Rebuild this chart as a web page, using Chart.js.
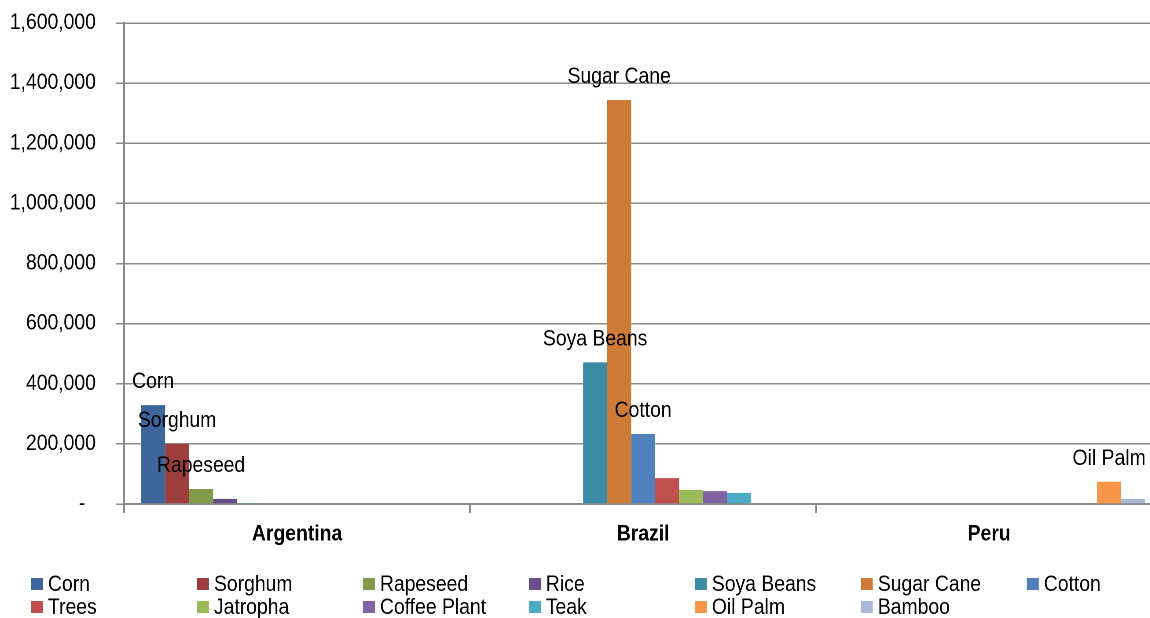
<!DOCTYPE html>
<html>
<head>
<meta charset="utf-8">
<script src="https://cdn.jsdelivr.net/npm/chart.js@4/dist/chart.umd.min.js"></script>
<style>
  html, body { margin: 0; padding: 0; background: #fff; }
  #clip { width: 1150px; height: 618px; overflow: hidden; position: relative; }
  /* the chart is laid out on a wider stage and drawn narrower */
  #stage { width: 1330px; height: 618px; transform: scaleX(0.88); transform-origin: 0 0; }
</style>
</head>
<body>
<div id="clip"><div id="stage"><canvas id="c" width="1330" height="618"></canvas></div></div>
<script>
// Countries on the x axis
const countries = ['Argentina', 'Brazil', 'Peru'];

// Crop areas per country (Argentina, Brazil, Peru)
const corn        = [329000, 0, 0];
const sorghum     = [200000, 0, 0];
const rapeseed    = [50000, 0, 0];
const rice        = [17000, 0, 0];
const soyaBeans   = [3500, 471000, 0];
const sugarCane   = [0, 1344000, 0];
const cotton      = [0, 233000, 0];
const trees       = [0, 86000, 0];
const jatropha    = [0, 47000, 0];
const coffeePlant = [0, 43000, 0];
const teak        = [0, 37000, 0];
const oilPalm     = [0, 0, 74000];
const bamboo      = [0, 0, 17000];

const seriesNames  = ['Corn', 'Sorghum', 'Rapeseed', 'Rice', 'Soya Beans', 'Sugar Cane', 'Cotton',
                      'Trees', 'Jatropha', 'Coffee Plant', 'Teak', 'Oil Palm', 'Bamboo'];
const seriesValues = [corn, sorghum, rapeseed, rice, soyaBeans, sugarCane, cotton,
                      trees, jatropha, coffeePlant, teak, oilPalm, bamboo];
const seriesColors = ['#3D679C', '#9C3F3C', '#7F9B48', '#664F86', '#3A8BA3', '#CE7B37', '#4F81BD',
                      '#C0504D', '#9BBB59', '#8064A2', '#4BACC6', '#F79646', '#A9B8D9'];

// Y axis ticks
const yMin = 0, yMax = 1600000, yStep = 200000;

// Bars that carry their series name above them: [series, country]
const namedBars = [
  ['Corn', 'Argentina'], ['Sorghum', 'Argentina'], ['Rapeseed', 'Argentina'],
  ['Soya Beans', 'Brazil'], ['Sugar Cane', 'Brazil'], ['Cotton', 'Brazil'],
  ['Oil Palm', 'Peru']
];

const FONT = '"Liberation Sans", Arial, sans-serif';

const barNames = {
  id: 'barNames',
  afterDatasetsDraw(chart) {
    const ctx = chart.ctx;
    ctx.save();
    ctx.font = '22px ' + FONT;
    ctx.fillStyle = '#000';
    ctx.textAlign = 'center';
    ctx.textBaseline = 'alphabetic';
    namedBars.forEach(([s, c]) => {
      const di = seriesNames.indexOf(s);
      const ci = countries.indexOf(c);
      const bar = chart.getDatasetMeta(di).data[ci];
      ctx.fillText(s, bar.x, bar.y - 17);
    });
    ctx.restore();
  }
};

const gridLegend = {
  id: 'gridLegend',
  afterDraw(chart) {
    const ctx = chart.ctx;
    const cols = 7, x0 = 35.2, colW = 188.6, y0 = 578, rowH = 23;
    ctx.save();
    ctx.font = '22px ' + FONT;
    ctx.textAlign = 'left';
    ctx.textBaseline = 'middle';
    chart.data.datasets.forEach((ds, i) => {
      const col = i % cols, row = Math.floor(i / cols);
      const x = x0 + col * colW, y = y0 + row * rowH;
      ctx.fillStyle = ds.backgroundColor;
      ctx.fillRect(x, y, 13.6, 12);
      ctx.fillStyle = '#000';
      ctx.fillText(ds.label, x + 19.3, y + 7);
    });
    ctx.restore();
  }
};

new Chart(document.getElementById('c'), {
  type: 'bar',
  data: {
    labels: countries,
    datasets: seriesNames.map((name, i) => ({
      label: name,
      data: seriesValues[i],
      backgroundColor: seriesColors[i],
      borderWidth: 0,
      categoryPercentage: 0.9017,
      barPercentage: 1.0
    }))
  },
  options: {
    responsive: false,
    animation: false,
    devicePixelRatio: 2,
    layout: { padding: { top: 23, left: 11, right: 9.4, bottom: 70.6 } },
    plugins: { legend: { display: false }, tooltip: { enabled: false } },
    scales: {
      x: {
        offset: true,
        grid: { display: true, drawOnChartArea: false, drawTicks: true, tickLength: 9,
                color: '#8a8a8a', lineWidth: 2, offset: true },
        border: { display: true, color: '#8a8a8a', width: 2 },
        ticks: { color: '#000', padding: 8, font: { family: FONT, size: 22, weight: 'bold' } },
        afterFit(scale) { scale.height = 43.4; scale.paddingLeft = 0; scale.paddingRight = 0; }
      },
      y: {
        min: yMin, max: yMax,
        grid: { color: '#8a8a8a', lineWidth: 1.5, tickLength: 9 },
        border: { display: true, color: '#8a8a8a', width: 2 },
        ticks: {
          stepSize: yStep, color: '#000', padding: 23,
          font: { family: FONT, size: 22 },
          callback: v => v === 0 ? '-  ' : v.toLocaleString('en-US')
        },
        afterFit(scale) { scale.width = 130; scale.paddingTop = 0; scale.paddingBottom = 0; }
      }
    }
  },
  plugins: [barNames, gridLegend]
});
</script>
</body>
</html>
